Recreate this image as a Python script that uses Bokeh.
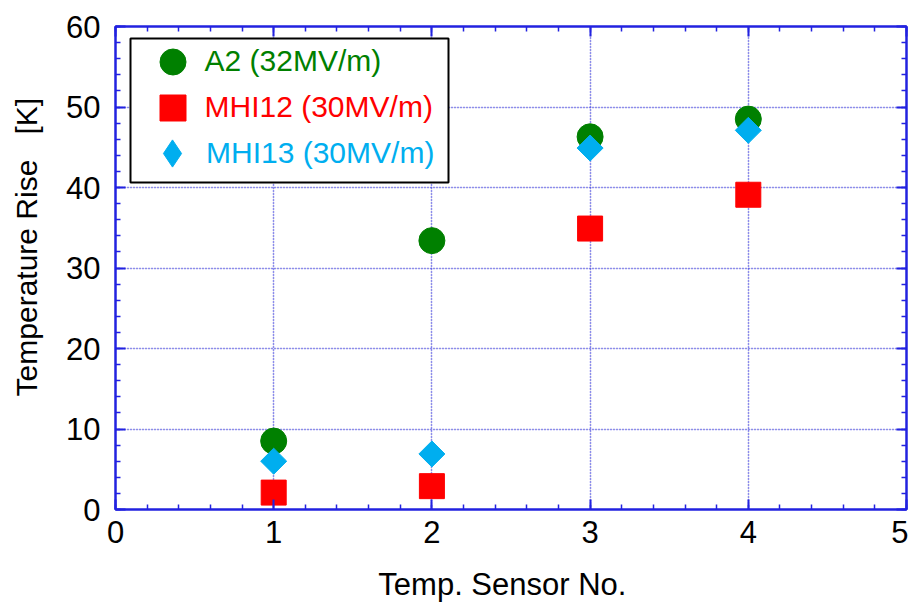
import numpy as np
from bokeh.plotting import figure
from bokeh.models import (LinearAxis, SingleIntervalTicker, Legend, LegendItem,
                          BoxAnnotation, ColumnDataSource, Range1d, Grid,
                          CustomJSTickFormatter)
from bokeh.core.enums import CoordinateUnits
from bokeh.embed import file_html
from bokeh.resources import INLINE

# ---- data ----
sensors = [1, 2, 3, 4]
a2 = [8.5, 33.4, 46.3, 48.5]
mhi12 = [2.1, 2.9, 34.9, 39.1]
mhi13 = [6.0, 6.9, 44.9, 47.1]
series_names = ["A2 (32MV/m)", "MHI12 (30MV/m)", "MHI13 (30MV/m)"]
x_title = "Temp. Sensor No.\u00a0\u00a0"
y_title = "\u00a0" * 5 + "Temperature Rise\u00a0\u00a0\u00a0[K]"

GREEN = "#008000"
RED = "#FF0000"
CYAN = "#00AEEF"
BLUE = "#2222E0"
GRIDBLUE = "#3535F0"
FONT = "Liberation Sans"

p = figure(width=908, height=604, output_backend="svg", toolbar_location=None,
           x_range=Range1d(0, 5), y_range=Range1d(0, 60),
           x_axis_location=None, y_axis_location=None,
           min_border_left=115, min_border_top=26, min_border_right=2,
           min_border_bottom=88)
p.outline_line_color = BLUE
p.outline_line_width = 2
p.background_fill_color = "white"
p.border_fill_color = "white"

blank = CustomJSTickFormatter(code="return ''")

def style_axis(ax, show_labels):
    ax.axis_line_color = BLUE
    ax.axis_line_width = 2
    ax.major_tick_line_color = BLUE
    ax.minor_tick_line_color = BLUE
    ax.major_tick_line_width = 2
    ax.minor_tick_line_width = 1.5
    ax.major_tick_in = 10
    ax.major_tick_out = 0
    ax.minor_tick_in = 5
    ax.minor_tick_out = 0
    if show_labels:
        ax.major_label_text_font = FONT
        ax.major_label_text_font_size = "31px"
        ax.major_label_text_color = "black"
        ax.axis_label_text_font = FONT
        ax.axis_label_text_font_style = "normal"
        ax.axis_label_text_color = "black"
    else:
        ax.formatter = blank
        ax.major_label_standoff = 0

xt = SingleIntervalTicker(interval=1, num_minor_ticks=5)
yt = SingleIntervalTicker(interval=10, num_minor_ticks=5)

xb = LinearAxis(ticker=xt, axis_label=x_title)
style_axis(xb, True)
xb.major_label_standoff = 11
xb.axis_label_text_font_size = "31px"
xb.axis_label_standoff = 21
p.add_layout(xb, "below")

yl = LinearAxis(ticker=yt, axis_label=y_title)
style_axis(yl, True)
yl.major_label_standoff = 15
yl.axis_label_text_font_size = "30px"
yl.axis_label_standoff = 20
p.add_layout(yl, "left")

xa = LinearAxis(ticker=xt)
style_axis(xa, False)
p.add_layout(xa, "above")
yr = LinearAxis(ticker=yt)
style_axis(yr, False)
p.add_layout(yr, "right")

gx = Grid(dimension=0, ticker=xt, grid_line_color=GRIDBLUE, grid_line_dash="1 2",
          grid_line_width=1.5)
gy = Grid(dimension=1, ticker=yt, grid_line_color=GRIDBLUE, grid_line_dash="1 2",
          grid_line_width=1.5)
p.add_layout(gx)
p.add_layout(gy)

src = ColumnDataSource(dict(x=sensors, a2=a2, mhi12=mhi12, mhi13=mhi13))
r_a2 = p.scatter("x", "a2", source=src, marker="circle", size=26,
                 fill_color=GREEN, line_color=GREEN)
r_m12 = p.scatter("x", "mhi12", source=src, marker="square", size=25,
                  fill_color=RED, line_color=RED)
# small diamond key glyph (hidden beneath the rotated squares) used for the legend,
# because legend markers ignore rotation
r_m13_key = p.scatter("x", "mhi13", source=src, marker="diamond", size=14,
                      fill_color=CYAN, line_color=CYAN)
r_m13 = p.scatter("x", "mhi13", source=src, marker="square", size=18.4,
                  angle=np.pi / 4, fill_color=CYAN, line_color=CYAN)

# legend box
units = "canvas" if "canvas" in CoordinateUnits else "screen"
box = BoxAnnotation(left=130, right=448, top=38, bottom=182,
                    left_units=units, right_units=units, top_units=units,
                    bottom_units=units, fill_color="white", fill_alpha=1.0,
                    line_color="black", line_alpha=1.0, line_width=2)
p.add_layout(box)

renderers = [r_a2, r_m12, r_m13_key]
colors = [GREEN, RED, CYAN]
glyph_sz = [65, 65, 68]
stand = [-2, -2, -2]
centers_up = [448, 402, 356]   # legend row centres above frame bottom
for name, rend, col, gs, st, cy in zip(series_names, renderers, colors, glyph_sz, stand, centers_up):
    lg = Legend(items=[LegendItem(label=name, renderers=[rend])],
                location=(57 - gs / 2, cy - gs / 2), padding=0, margin=0, spacing=0,
                glyph_width=gs, glyph_height=gs, label_standoff=st,
                label_text_font=FONT, label_text_font_size="30px",
                label_text_color=col, border_line_alpha=0,
                background_fill_alpha=0)
    p.add_layout(lg)

open("out.html", "w").write(file_html(p, INLINE))
